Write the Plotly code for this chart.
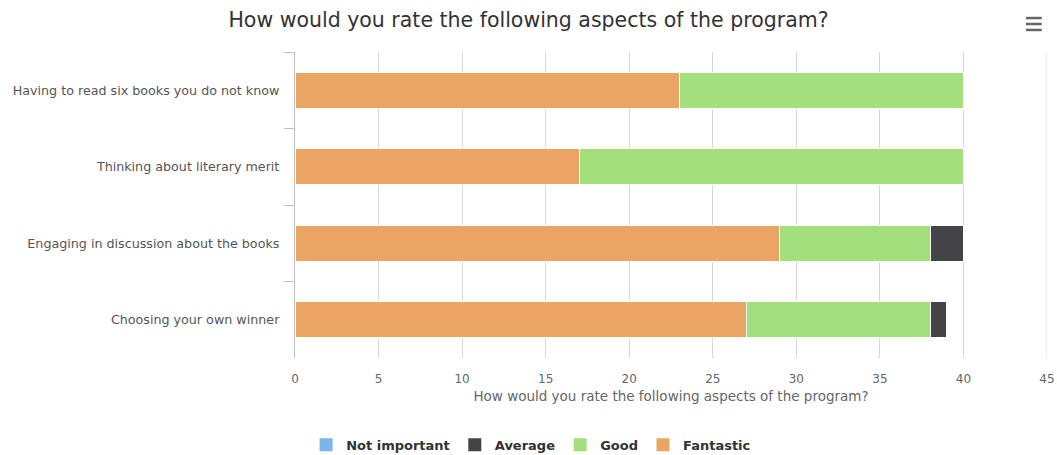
import plotly.graph_objects as go

categories = [
    "Having to read six books you do not know",
    "Thinking about literary merit",
    "Engaging in discussion about the books",
    "Choosing your own winner",
]
not_important = [0, 0, 0, 0]
average = [0, 0, 2, 1]
good = [17, 23, 9, 11]
fantastic = [23, 17, 29, 27]

x_ticks = [0, 5, 10, 15, 20, 25, 30, 35, 40, 45]

title_text = "How would you rate the following aspects of the program?"
axis_title = "How would you rate the following aspects of the program?"

fig = go.Figure()
series = [
    ("Fantastic", fantastic, "#eaa463"),
    ("Good", good, "#a4df7e"),
    ("Average", average, "#434348"),
    ("Not important", not_important, "#7cb5ec"),
]
for name, vals, col in series:
    fig.add_trace(go.Bar(
        y=categories, x=vals, name=name, orientation="h",
        marker=dict(color=col, line=dict(color="#ffffff", width=1)),
        width=0.47, showlegend=False, legendgroup=name,
    ))
# legend entries (square swatches)
for name, vals, col in series:
    fig.add_trace(go.Scatter(
        x=[None], y=[None], mode="markers", name="<b>" + name + "</b>",
        marker=dict(symbol="square", size=13, color=col),
        legendgroup=name, showlegend=True, hoverinfo="skip",
    ))

fig.update_layout(
    width=1057, height=455,
    barmode="stack",
    paper_bgcolor="#ffffff",
    plot_bgcolor="#ffffff",
    margin=dict(l=295, r=10, t=52, b=97, autoexpand=False),
    font=dict(family="DejaVu Sans", color="#666666", size=11),
    title=dict(text=title_text, x=0.5, xanchor="center", y=0.956, yanchor="middle",
               font=dict(size=20.5, color="#333333", family="DejaVu Sans")),
    showlegend=True,
    legend=dict(orientation="h", x=0.314, xanchor="center", y=-0.284, yanchor="middle",
                traceorder="reversed", itemsizing="trace",
                font=dict(size=13, color="#333333", family="DejaVu Sans")),
    bargap=0.5,
)
fig.update_xaxes(
    range=[0, 45], tickvals=x_ticks, ticktext=[str(t) for t in x_ticks],
    showgrid=True, gridcolor="#d8d8d8", gridwidth=1,
    zeroline=False, showline=False,
    ticks="outside", ticklen=10, tickcolor="rgba(0,0,0,0)",
    tickfont=dict(size=12, color="#666666"),
    title=dict(text=axis_title, font=dict(size=13.5, color="#666666"), standoff=6),
    automargin=False,
    fixedrange=True,
)
fig.update_yaxes(
    autorange="reversed", type="category",
    showline=True, linecolor="#c0c0c0", linewidth=1,
    ticks="outside", ticklen=10, tickcolor="#c0c0c0", tickson="boundaries",
    showgrid=False,
    tickfont=dict(size=12.7, color="#555555"),
    ticksuffix="   ",
    automargin=False,
    fixedrange=True,
)
# gridline at the right end of the axis
fig.add_shape(type="line", xref="x", yref="paper", x0=x_ticks[-1], x1=x_ticks[-1],
              y0=0, y1=1, line=dict(color="#d8d8d8", width=1), layer="below")
# hamburger (export menu) icon
for yy in [1.111, 1.0915, 1.072]:
    fig.add_shape(type="line", xref="paper", yref="paper",
                  x0=0.972, x1=0.993, y0=yy, y1=yy,
                  line=dict(color="#666666", width=2.5))

fig.write_html(
    "out.html",
    config={"displayModeBar": False},
    post_script="document.body.style.margin='0';document.body.style.overflow='hidden';",
)
